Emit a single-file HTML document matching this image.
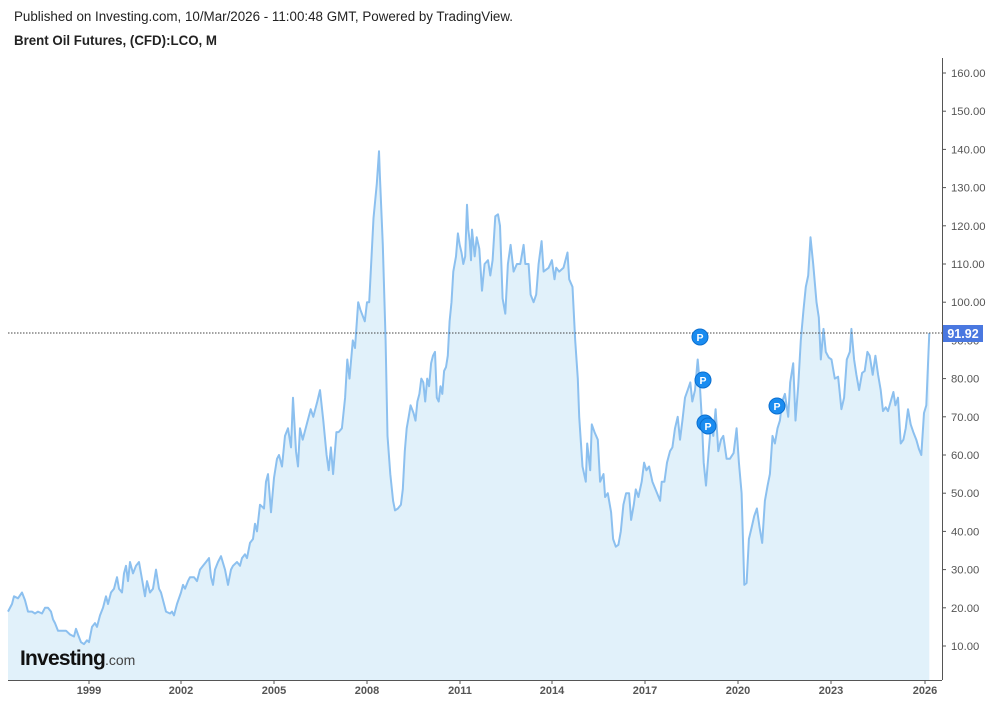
<!DOCTYPE html>
<html><head><meta charset="utf-8"><style>
body{margin:0;background:#fff;width:995px;height:704px;overflow:hidden;font-family:"Liberation Sans",Arial,sans-serif}
</style></head><body>
<svg id="s" width="995" height="704" xmlns="http://www.w3.org/2000/svg" style="position:absolute;left:0;top:0">
<text x="14" y="21" font-size="13.4" fill="#222" textLength="499" lengthAdjust="spacingAndGlyphs">Published on Investing.com, 10/Mar/2026 - 11:00:48 GMT, Powered by TradingView.</text>
<text x="14" y="45" font-size="13.4" font-weight="bold" fill="#222" textLength="203" lengthAdjust="spacingAndGlyphs">Brent Oil Futures, (CFD):LCO, M</text>
<g id="g"></g>
</svg>
<script>
var yv=function(v){return 646-(v-10)*3.82;};
var A=[[8,19],[12,21],[14,23],[18,22.5],[22,24],[25,22],[28,19],[32,19],[35,18.5],[38,19],[42,18.5],[45,20],[48,20],[51,19],[53,17],[55,16],[58,14],[62,14],[66,14],[70,13],[74,12.5],[76,14.5],[78,13],[81,11],[84,10.5],[87,11.5],[89,11],[92,15],[95,16],[97,15],[100,18],[103,20],[106,23],[108,21],[111,24],[114,25],[117,28],[119,25],[122,24],[124,29],[126,31],[128,27],[130,32],[133,29],[136,31],[139,32],[145,23],[147,27],[150,24],[153,25],[156,30],[159,25],[161,24],[166,19],[170,18.5],[172,19],[174,18],[177,21],[181,24],[183,26],[185,25],[188,27],[190,28],[194,28],[197,27],[200,30],[203,31],[206,32],[209,33],[211,28],[213,26],[215,30],[218,32],[221,33.5],[225,30],[228,26],[231,30],[233,31],[237,32],[240,31],[242,33],[245,34],[247,33],[250,37],[253,38],[255,42],[257,40],[260,47],[264,46],[266,53],[268,55],[271,45],[274,54],[277,59],[279,60],[282,57],[285,65],[288,67],[291,62],[293,75],[296,61],[298,57],[300,67],[302,64],[305,68],[308,72],[310,70],[313,74],[315,77],[318,69],[321,60],[323,56],[325,62],[327,55],[330,66],[332,66],[335,67],[338,75],[340,85],[342,80],[345,90],[347,88],[350,100],[352,98],[356,95],[358,100],[360,100],[364,122],[367,131],[369,139.5],[370,133],[373,115],[376,90],[378,65],[381,55],[384,48],[386,45.5],[389,46],[392,47],[394,51],[396,61],[398,67],[400,70],[402,73],[405,71],[407,69],[409,74],[411,76],[413,80],[415,79],[417,74],[419,80],[421,78],[423,84],[425,86],[427,87],[429,75],[431,74],[433,78],[435,76],[437,82],[439,83],[441,86],[443,95],[445,100],[447,108],[450,112],[452,118],[454,115],[456,113],[458,110],[460,112],[462,125.5],[464,119],[466,116],[468,111]];
var M=[[0,0],[300,300],[315,320],[369,379],[386,395],[427,435],[462,467],[468,471]];
function mp(x){for(var i=1;i<M.length;i++){if(x<=M[i][0]){var a=M[i-1],b=M[i];return a[1]+(x-a[0])*(b[1]-a[1])/(b[0]-a[0]);}}return x;}
var B=[[0,119],[8,112],[14,117],[22,114],[30,103],[38,110],[48,111],[55,107],[62,111],[70,122.5],[78,123],[84,120],[92,101],[100,97],[108,110],[116,115],[125,108],[135,110],[145,110],[155,115],[160,110],[170,110],[176,102],[185,100],[193,102],[200,110],[209,116],[215,108],[230,109],[240,111],[248,106],[253,109],[262,108],[275,109],[287,113],[292,106],[302,104],[310,90],[318,80],[322,70],[332,57],[342,53],[346,63],[355,56],[360,68],[368,66],[378,64],[385,53],[395,55],[400,49],[408,50],[418,45],[424,38],[432,36],[440,36.5],[447,40],[455,47],[463,50],[472,50],[478,43],[486,47],[492,51],[500,49],[510,53],[517,58],[524,56],[532,57],[542,53],[556,50],[565,48],[570,53],[578,53],[586,58],[595,61],[602,62],[610,67],[618,70],[625,64],[632,69],[640,75],[648,77],[656,79],[662,74],[670,77],[678,85],[684,79],[690,70],[696,58],[703,52],[712,62],[718,68],[725,65],[732,72],[740,61],[748,64],[755,65],[765,59],[775,59],[786,60.5],[795,67],[802,58],[810,50],[818,26],[825,26.5],[832,38],[840,41],[848,44],[856,46],[864,41],[872,37],[880,48],[888,52],[895,55],[903,65],[910,63],[918,67],[925,69],[932,74],[940,76],[950,70],[956,79],[965,84],[972,69],[980,78],[988,90],[996,98],[1003,104],[1010,107],[1017,117],[1025,110],[1035,100],[1042,96],[1048,85],[1056,93],[1063,87],[1072,85.5],[1080,85],[1090,80],[1100,80.5],[1110,72],[1118,75],[1126,85],[1135,87],[1140,93],[1148,85],[1155,81],[1163,77],[1172,81.5],[1180,82],[1188,87],[1195,86],[1204,81],[1212,86],[1220,81],[1228,77],[1235,71.5],[1243,72.5],[1250,71.5],[1258,74],[1266,76.5],[1272,73],[1280,75],[1288,63],[1296,64],[1303,67],[1310,72],[1318,68],[1326,66],[1335,64],[1343,61.5],[1350,60],[1358,71],[1365,73],[1374,91.92]];
var pts=A.map(function(p){return [mp(p[0]),yv(p[1])];}).concat(B.map(function(p){return [472+p[0]/3*0.9985,yv(p[1])];}));
var d=pts.map(function(p,i){return (i?'L':'M')+p[0].toFixed(1)+' '+p[1].toFixed(1);}).join('');
var h='';
h+='<path d="'+d+'L'+pts[pts.length-1][0].toFixed(1)+' 680L8 680Z" fill="#e1f1fa"/>';
h+='<path d="'+d+'" fill="none" stroke="#8cc0ef" stroke-width="2" stroke-linejoin="round"/>';
h+='<line x1="8" y1="333" x2="942" y2="333" stroke="#444" stroke-width="1" stroke-dasharray="1.5,1.5"/>';
h+='<line x1="942.5" y1="58" x2="942.5" y2="680" stroke="#555"/>';
h+='<line x1="8" y1="680.5" x2="942" y2="680.5" stroke="#555"/>';
for(var v=10;v<=160;v+=10){var y=yv(v);h+='<line x1="942" y1="'+y+'" x2="946" y2="'+y+'" stroke="#555"/><text x="951" y="'+(y+4)+'" font-size="11.3" fill="#555">'+v+'.00</text>';}
var yrs=[[1999,89],[2002,181],[2005,274],[2008,367],[2011,460],[2014,552],[2017,645],[2020,738],[2023,831],[2026,925]];
yrs.forEach(function(a){h+='<line x1="'+a[1]+'" y1="680" x2="'+a[1]+'" y2="684" stroke="#555"/><text x="'+a[1]+'" y="694" font-size="11" font-weight="bold" fill="#555" text-anchor="middle">'+a[0]+'</text>';});
h+='<rect x="943" y="325" width="40" height="17" fill="#4a78e0"/><text x="963" y="338" font-size="12.5" font-weight="bold" fill="#fff" text-anchor="middle">91.92</text>';
[[700,337],[703,380],[705,423],[708,426],[777,406]].forEach(function(p){h+='<circle cx="'+p[0]+'" cy="'+p[1]+'" r="8" fill="#1a8cf0" stroke="#0b6fd0"/><text x="'+p[0]+'" y="'+(p[1]+4)+'" font-size="10.5" font-weight="bold" fill="#fff" text-anchor="middle">P</text>';});
h+='<text x="20" y="665" font-size="21" font-weight="bold" fill="#111" letter-spacing="-0.8">Investing<tspan font-size="14" font-weight="normal" fill="#444" letter-spacing="0">.com</tspan></text>';
document.getElementById('g').innerHTML=h;
</script>
</body></html>
